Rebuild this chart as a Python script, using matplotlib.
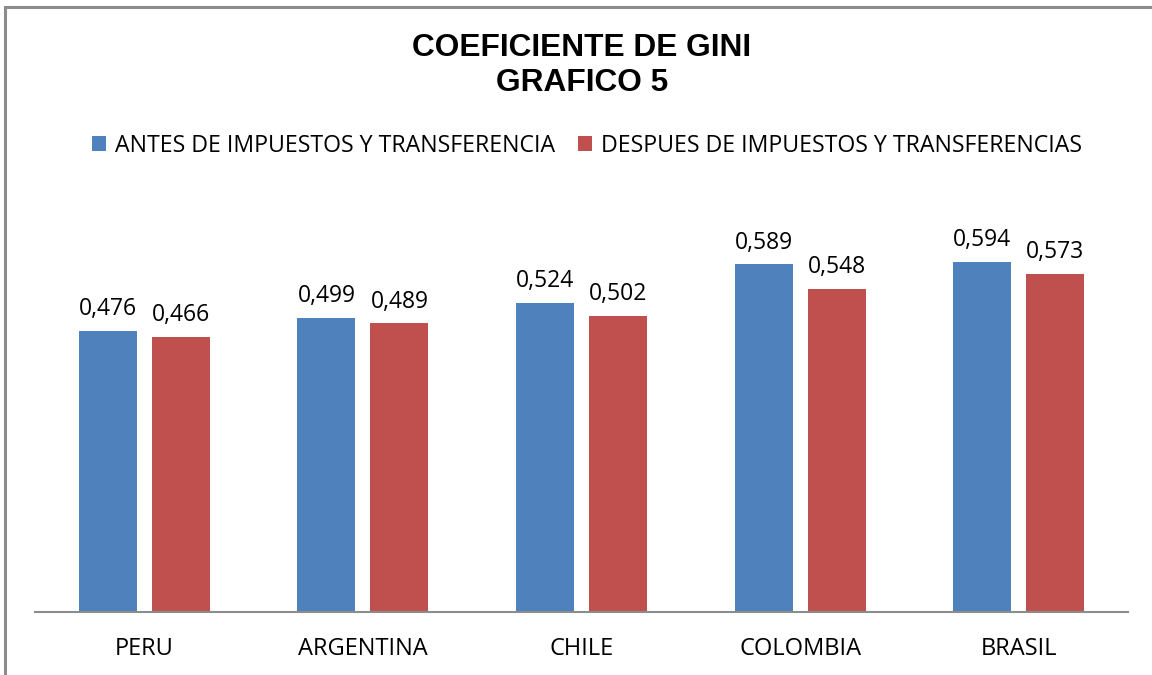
import matplotlib.pyplot as plt
import numpy as np
from matplotlib.patches import Rectangle

paises = ["PERU", "ARGENTINA", "CHILE", "COLOMBIA", "BRASIL"]
antes = [0.476, 0.499, 0.524, 0.589, 0.594]
despues = [0.466, 0.489, 0.502, 0.548, 0.573]
etiqueta_antes = "ANTES DE IMPUESTOS Y TRANSFERENCIA"
etiqueta_despues = "DESPUES DE IMPUESTOS Y TRANSFERENCIAS"

azul = "#4F81BD"
rojo = "#C0504D"
fuente = "Open Sans"

fig = plt.figure(figsize=(11.52, 6.75), dpi=100)
# marco del grafico
fig.patches.append(Rectangle((5 / 1152, -0.01), 1.02, 1 - 7 / 675 + 0.01,
                             transform=fig.transFigure, fill=False,
                             edgecolor="#8c8c8c", linewidth=2.2))

ax = fig.add_axes([35 / 1152, 63 / 675, 1093 / 1152, 413 / 675])
x = np.arange(len(paises))
w = 0.265
b1 = ax.bar(x - 0.167, antes, w, color=azul, label=etiqueta_antes)
b2 = ax.bar(x + 0.167, despues, w, color=rojo, label=etiqueta_despues)

for barras in (b1, b2):
    for r in barras:
        v = r.get_height()
        ax.annotate(f"{v:.3f}".replace(".", ","), (r.get_x() + r.get_width() / 2, v),
                    xytext=(0, 7), textcoords="offset points", ha="center", va="bottom",
                    fontsize=16.5, family=fuente)

ax.set_xlim(-0.5, len(paises) - 0.5)
ax.set_ylim(0, 0.7)
ax.set_xticks(x)
ax.set_xticklabels(paises, fontsize=17, family=fuente)
ax.tick_params(axis="x", length=0, pad=18)
ax.set_yticks([])
for s in ["left", "right", "top"]:
    ax.spines[s].set_visible(False)
ax.spines["bottom"].set_color("#8c8c8c")
ax.spines["bottom"].set_linewidth(1.5)

fig.text(582 / 1152, 1 - 48 / 675, "COEFICIENTE DE GINI", ha="center", va="center",
         fontsize=22.8, fontweight="bold", family="Liberation Sans")
fig.text(582 / 1152, 1 - 83 / 675, "GRAFICO 5", ha="center", va="center",
         fontsize=22.8, fontweight="bold", family="Liberation Sans")

fig.legend(loc="center", bbox_to_anchor=(587 / 1152, 1 - 146 / 675), ncol=2, frameon=False,
           prop={"family": fuente, "size": 16.7}, handlelength=0.6, handleheight=0.6,
           handletextpad=0.4, columnspacing=1.0)

fig.savefig("out.png", dpi=100)
